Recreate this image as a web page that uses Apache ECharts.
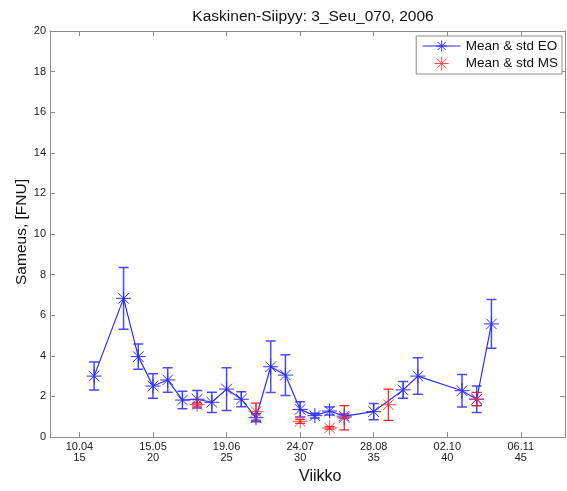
<!DOCTYPE html>
<html><head><meta charset="utf-8">
<script src="https://cdn.jsdelivr.net/npm/echarts@6/dist/echarts.min.js"></script>
<style>html,body{margin:0;padding:0;background:#fff}#c{width:567px;height:491px}</style>
</head><body><div id="c"></div>
<script>
var titleText = 'Kaskinen-Siipyy: 3_Seu_070, 2006';
var tickWeeks = [15, 20, 25, 30, 35, 40, 45];
var tickDates = ['10.04', '15.05', '19.06', '24.07', '28.08', '02.10', '06.11'];
var yTicks = [0, 2, 4, 6, 8, 10, 12, 14, 16, 18, 20];

var eoWeek = [16, 18, 19, 20, 21, 22, 23, 24, 25, 26, 27, 28, 29, 30, 31, 32, 33, 35, 37, 38, 41, 42, 43];
var eoMean = [3.0, 6.83, 3.96, 2.51, 2.81, 1.82, 1.86, 1.71, 2.36, 1.86, 0.95, 3.46, 3.05, 1.36, 1.05, 1.28, 1.03, 1.25, 2.32, 3.0, 2.28, 1.86, 5.57];
var eoStd  = [0.69, 1.52, 0.62, 0.6, 0.6, 0.43, 0.43, 0.5, 1.05, 0.37, 0.2, 1.27, 1.0, 0.38, 0.12, 0.2, 0.1, 0.4, 0.41, 0.9, 0.8, 0.65, 1.2];

var msWeek = [23, 27, 30, 32, 33, 36, 42];
var msMean = [1.6, 1.25, 0.77, 0.45, 0.95, 1.59, 1.87];
var msStd  = [0.08, 0.42, 0.1, 0.06, 0.6, 0.77, 0.33];

var star = 'path://M0,-10L0,10M-10,0L10,0M-7.07,-7.07L7.07,7.07M-7.07,7.07L7.07,-7.07';
var FONT = 'Liberation Sans, Arial, sans-serif';
var axisGray = '#8c8c8c';
var BLUE = '#2d2dff', BAR_BLUE = '#4a4aff', RED = '#ff2020';

function pts(w, m) { return w.map(function (x, i) { return [x, m[i]]; }); }
function errs(w, m, s) { return w.map(function (x, i) { return [x, m[i] - s[i], m[i] + s[i]]; }); }

function errRender(color, lw) {
  return function (params, api) {
    var x = api.value(0);
    var lo = api.coord([x, api.value(1)]);
    var hi = api.coord([x, api.value(2)]);
    var c = 5;
    var px = lo[0];
    var d = 'M' + px + ',' + lo[1] + 'L' + px + ',' + hi[1] +
            'M' + (px - c) + ',' + lo[1] + 'L' + (px + c) + ',' + lo[1] +
            'M' + (px - c) + ',' + hi[1] + 'L' + (px + c) + ',' + hi[1];
    return { type: 'path', shape: { pathData: d },
      style: { stroke: color, lineWidth: lw, fill: 'none' } };
  };
}

var dateOf = {};
tickWeeks.forEach(function (w, i) { dateOf[w] = tickDates[i]; });

var chart = echarts.init(document.getElementById('c'), null, { renderer: 'canvas' });
chart.setOption({
  animation: false,
  backgroundColor: '#fff',
  textStyle: { fontFamily: FONT },
  title: { text: titleText, left: 308, textAlign: 'center', top: 4,
    textStyle: { fontSize: 15.5, fontWeight: 'normal', color: '#111', fontFamily: FONT } },
  grid: { left: 50, right: 2, top: 31, bottom: 54 },
  legend: {
    right: 5, top: 36, orient: 'vertical', backgroundColor: '#fff',
    borderColor: axisGray, borderWidth: 1, borderRadius: 0, padding: [3, 4, 3, 6], itemGap: 3,
    itemWidth: 38, itemHeight: 14,
    textStyle: { fontSize: 13.5, color: '#111', fontFamily: FONT },
    data: [
      { name: 'Mean & std EO', itemStyle: { borderWidth: 1 }, lineStyle: { width: 1 } },
      { name: 'Mean & std MS', itemStyle: { borderWidth: 1 } }
    ]
  },
  xAxis: [{
    type: 'value', min: 13, max: 48, position: 'bottom',
    axisLine: { show: true, onZero: false, lineStyle: { color: axisGray } },
    axisTick: { show: true, inside: true, length: 5, customValues: tickWeeks, lineStyle: { color: axisGray } },
    axisLabel: { show: true, customValues: tickWeeks, fontSize: 11, color: '#222', margin: 4, lineHeight: 11,
      formatter: function (v) { return (dateOf[v] || '') + '\n' + v; } },
    splitLine: { show: false }
  }, {
    type: 'value', min: 13, max: 48, position: 'top',
    axisLine: { show: true, onZero: false, lineStyle: { color: axisGray } },
    axisTick: { show: true, inside: true, length: 5, customValues: tickWeeks, lineStyle: { color: axisGray } },
    axisLabel: { show: false }, splitLine: { show: false }
  }],
  yAxis: [{
    type: 'value', min: 0, max: 20, interval: 2, position: 'left',
    axisLine: { show: true, lineStyle: { color: axisGray } },
    axisTick: { show: true, inside: true, length: 5, lineStyle: { color: axisGray } },
    axisLabel: { fontSize: 11, color: '#222', margin: 4 },
    splitLine: { show: false }
  }, {
    type: 'value', min: 0, max: 20, interval: 2, position: 'right',
    axisLine: { show: true, lineStyle: { color: axisGray } },
    axisTick: { show: true, inside: true, length: 5, lineStyle: { color: axisGray } },
    axisLabel: { show: false }, splitLine: { show: false }
  }],
  graphic: [
    { type: 'text', left: 299, top: 469, style: { text: 'Viikko', fontSize: 16, fill: '#111', fontFamily: FONT } },
    { type: 'text', x: 22, y: 232, rotation: Math.PI / 2, style: { text: 'Sameus, [FNU]', fontSize: 15.5, fill: '#111',
      fontFamily: FONT, textAlign: 'center', textVerticalAlign: 'middle' } }
  ],
  series: [
    { name: 'EO err', type: 'custom', xAxisIndex: 0, yAxisIndex: 0, renderItem: errRender(BAR_BLUE, 1.5),
      itemStyle: { color: BAR_BLUE }, data: errs(eoWeek, eoMean, eoStd), encode: { x: 0, y: [1, 2] }, z: 2 },
    { name: 'MS err', type: 'custom', xAxisIndex: 0, yAxisIndex: 0, renderItem: errRender(RED, 1.3),
      itemStyle: { color: RED }, data: errs(msWeek, msMean, msStd), encode: { x: 0, y: [1, 2] }, z: 3 },
    { name: 'Mean & std EO', type: 'line', data: pts(eoWeek, eoMean), symbol: star, symbolSize: 15,
      showAllSymbol: true,
      itemStyle: { color: BLUE, borderColor: BLUE, borderWidth: 1 },
      lineStyle: { color: BLUE, width: 1.2 }, z: 4 },
    { name: 'Mean & std MS', type: 'scatter', data: pts(msWeek, msMean), symbol: star, symbolSize: 15,
      itemStyle: { color: RED, borderColor: RED, borderWidth: 1 }, z: 5 }
  ]
});
</script></body></html>
